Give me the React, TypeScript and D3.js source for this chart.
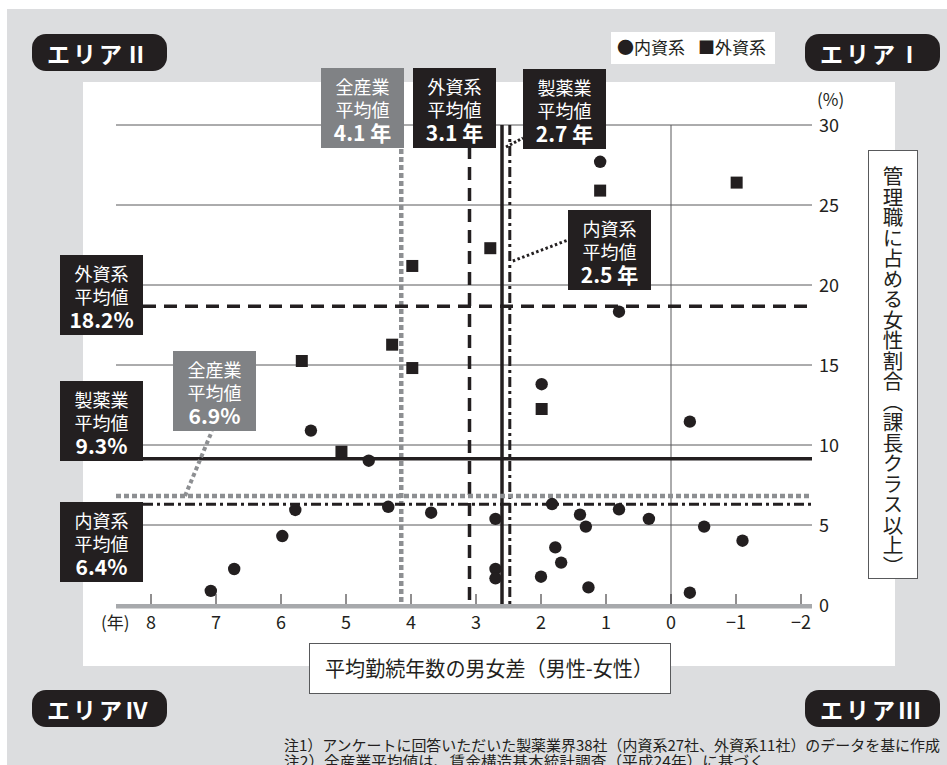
import React, { useEffect, useRef } from 'react';
import * as d3 from 'd3';

// 内資系 (circles): x = 平均勤続年数の男女差, y = 管理職に占める女性割合
const domesticX = [5.54, 4.65, 5.78, 4.35, 3.69, 5.98, 6.72, 7.08, -0.29, 1.83, 2.7, 1.4, 1.31, 0.8, 0.34, -0.51, -1.1, 1.78, 1.69, 2.7, 2.7, 2.0, 1.27, -0.29, 0.8, 1.99, 1.09];
const domesticY = [10.9, 9.02, 5.94, 6.14, 5.77, 4.31, 2.25, 0.88, 11.46, 6.31, 5.38, 5.65, 4.9, 5.98, 5.38, 4.9, 4.02, 3.6, 2.65, 2.25, 1.67, 1.77, 1.1, 0.77, 18.33, 13.8, 27.7];

// 外資系 (squares)
const foreignX = [5.07, 1.99, 2.78, 1.09, -1.01, 3.98, 4.29, 3.98, 5.68];
const foreignY = [9.58, 12.25, 22.3, 25.9, 26.4, 21.19, 16.27, 14.81, 15.25];

const xTicks = [8, 7, 6, 5, 4, 3, 2, 1, 0, -1, -2];
const yTicks = [0, 5, 10, 15, 20, 25, 30];

// vertical averages (years)
const yearAvgNames = ['全産業', '外資系', '製薬業', '内資系'];
const yearAvgValues = [4.15, 3.1, 2.6, 2.48];
const yearAvgLabels = ['4.1 年', '3.1 年', '2.7 年', '2.5 年'];

// horizontal averages (%)
const rateAvgNames = ['外資系', '製薬業', '全産業', '内資系'];
const rateAvgValues = [18.67, 9.14, 6.81, 6.29];
const rateAvgLabels = ['18.2%', '9.3%', '6.9%', '6.4%'];

const FONT = '"Noto Sans CJK JP", "Noto Sans", sans-serif';
const INK = '#231f20';
const GREY_BOX = '#808285';
const GREY_LINE = '#8d8f92';

const lineStyle: Record<string, { stroke: string; width: number; dash: string | null }> = {
  全産業: { stroke: GREY_LINE, width: 4.5, dash: '5,3' },
  外資系: { stroke: INK, width: 3.5, dash: '13,8' },
  製薬業: { stroke: INK, width: 3.5, dash: null },
  内資系: { stroke: INK, width: 3, dash: '10,4,3,4' },
};

// label box positions [x, y]
const yearBoxPos = [[321, 68], [413, 68], [523, 69], [568, 210]];
const rateBoxPos = [[60, 255], [60, 381], [173, 351], [60, 502]];

const App = () => {
  const svgRef = useRef<SVGSVGElement>(null);

  useEffect(() => {
    const svg = d3.select(svgRef.current);
    svg.selectAll('*').remove();
    const W = 947, H = 765;

    const x = d3.scaleLinear().domain([8, -2]).range([151, 801]);
    const y = d3.scaleLinear().domain([0, 30]).range([605, 125]);
    const xLeft = 116, xRight = 812;

    // backgrounds
    svg.append('rect').attr('x', 7).attr('y', 9).attr('width', W - 7).attr('height', H - 9).attr('fill', '#dcdddf');
    svg.append('rect').attr('x', 83).attr('y', 82).attr('width', 812).attr('height', 584).attr('fill', '#fff');

    // grid
    svg.append('g').selectAll('line')
      .data(yTicks.filter(d => d > 0))
      .enter().append('line')
      .attr('x1', xLeft).attr('x2', xRight)
      .attr('y1', d => y(d)).attr('y2', d => y(d))
      .attr('stroke', '#58595b').attr('stroke-width', 1);
    svg.append('line')
      .attr('x1', x(0)).attr('x2', x(0)).attr('y1', y(30)).attr('y2', y(0))
      .attr('stroke', '#58595b').attr('stroke-width', 1);

    // x axis bar + ticks
    svg.append('rect').attr('x', xLeft).attr('y', y(0) - 1).attr('width', xRight - xLeft).attr('height', 4.5).attr('fill', '#a7a9ac');
    svg.append('g').selectAll('line')
      .data(xTicks)
      .enter().append('line')
      .attr('x1', d => x(d)).attr('x2', d => x(d))
      .attr('y1', y(0) - 11).attr('y2', y(0) - 1)
      .attr('stroke', INK).attr('stroke-width', 1);
    svg.append('g').selectAll('text')
      .data(xTicks)
      .enter().append('text')
      .attr('x', d => x(d)).attr('y', 629)
      .attr('text-anchor', 'middle')
      .style('font-family', FONT).style('font-size', '18px').attr('fill', INK)
      .text(d => (d < 0 ? '\u2212' + Math.abs(d) : String(d)));
    svg.append('text').attr('x', 101).attr('y', 629)
      .style('font-family', FONT).style('font-size', '17px').attr('fill', INK).text('(年)');

    // y labels
    svg.append('g').selectAll('text')
      .data(yTicks)
      .enter().append('text')
      .attr('x', 819).attr('y', d => y(d) + 6.5)
      .style('font-family', FONT).style('font-size', '18px').attr('fill', INK)
      .text(d => String(d));
    svg.append('text').attr('x', 817).attr('y', 106)
      .style('font-family', FONT).style('font-size', '17px').attr('fill', INK).text('(%)');

    // average lines (vertical)
    yearAvgNames.forEach((n, i) => {
      const s = lineStyle[n];
      svg.append('line')
        .attr('x1', x(yearAvgValues[i])).attr('x2', x(yearAvgValues[i]))
        .attr('y1', y(30)).attr('y2', y(0) - 1)
        .attr('stroke', s.stroke).attr('stroke-width', s.width)
        .attr('stroke-dasharray', s.dash);
    });
    // average lines (horizontal)
    rateAvgNames.forEach((n, i) => {
      const s = lineStyle[n];
      svg.append('line')
        .attr('x1', n === '全産業' ? xLeft : 143).attr('x2', xRight)
        .attr('y1', y(rateAvgValues[i])).attr('y2', y(rateAvgValues[i]))
        .attr('stroke', s.stroke).attr('stroke-width', s.width)
        .attr('stroke-dasharray', s.dash);
    });

    // points
    svg.append('g').selectAll('circle')
      .data(domesticX.map((d, i) => [d, domesticY[i]]))
      .enter().append('circle')
      .attr('cx', d => x(d[0])).attr('cy', d => y(d[1]))
      .attr('r', 6.2).attr('fill', INK);
    svg.append('g').selectAll('rect')
      .data(foreignX.map((d, i) => [d, foreignY[i]]))
      .enter().append('rect')
      .attr('x', d => x(d[0]) - 6).attr('y', d => y(d[1]) - 6)
      .attr('width', 12).attr('height', 12).attr('fill', INK);

    // leaders
    const leader = (x1, y1, x2, y2, color, w, dash) =>
      svg.append('line').attr('x1', x1).attr('y1', y1).attr('x2', x2).attr('y2', y2)
        .attr('stroke', color).attr('stroke-width', w).attr('stroke-dasharray', dash);
    leader(x(2.6) + 4, 147, 523, 138, INK, 3, '2.5,2');
    leader(x(2.48) + 3, 261, 568, 240, INK, 3, '2.5,2.5');
    leader(185, y(6.81), 212, 431, GREY_LINE, 4, '4,3');

    // label boxes
    const box = (bx, by, fill, name, value) => {
      const g = svg.append('g');
      g.append('rect').attr('x', bx).attr('y', by).attr('width', 83).attr('height', 80).attr('fill', fill);
      const cx = bx + 41.5;
      [[name, 18, '18px', 400], ['平均値', 41, '18px', 400], [value, 64, '21px', 700]].forEach(([t, dy, fs, fw]) => {
        g.append('text').attr('x', cx).attr('y', by + dy)
          .attr('text-anchor', 'middle').attr('dominant-baseline', 'central')
          .style('font-family', FONT).style('font-size', fs).style('font-weight', fw)
          .attr('fill', '#fff').text(t);
      });
    };
    yearAvgNames.forEach((n, i) => box(yearBoxPos[i][0], yearBoxPos[i][1], n === '全産業' ? GREY_BOX : INK, n, yearAvgLabels[i]));
    rateAvgNames.forEach((n, i) => box(rateBoxPos[i][0], rateBoxPos[i][1], n === '全産業' ? GREY_BOX : INK, n, rateAvgLabels[i]));

    // legend
    svg.append('rect').attr('x', 611).attr('y', 32).attr('width', 164).attr('height', 32).attr('fill', '#fff');
    svg.append('text').attr('x', 617).attr('y', 54)
      .style('font-family', FONT).style('font-size', '17px').attr('fill', INK).text('●内資系');
    svg.append('text').attr('x', 698).attr('y', 54)
      .style('font-family', FONT).style('font-size', '17px').attr('fill', INK).text('■外資系');

    // axis titles
    svg.append('rect').attr('x', 868.5).attr('y', 150.5).attr('width', 49).attr('height', 428)
      .attr('fill', '#fff').attr('stroke', '#58595b').attr('stroke-width', 1);
    svg.append('text').attr('x', 893).attr('y', 166)
      .style('writing-mode', 'vertical-rl')
      .style('font-family', FONT).style('font-size', '20.5px').attr('fill', INK)
      .text('管理職に占める女性割合（課長クラス以上）');
    svg.append('rect').attr('x', 309.5).attr('y', 643.5).attr('width', 361).attr('height', 50)
      .attr('fill', '#fff').attr('stroke', '#58595b').attr('stroke-width', 1);
    svg.append('text').attr('x', 325).attr('y', 676)
      .attr('textLength', 328).attr('lengthAdjust', 'spacingAndGlyphs')
      .style('font-family', FONT).style('font-size', '21px').attr('fill', INK)
      .text('平均勤続年数の男女差（男性-女性）');

    // area badges
    const badges = [['エリアⅡ', 32, 34], ['エリアⅠ', 805, 34], ['エリアⅣ', 32, 690], ['エリアⅢ', 805, 690]];
    badges.forEach(([t, bx, by]) => {
      svg.append('rect').attr('x', bx).attr('y', by).attr('width', 135).attr('height', 37)
        .attr('rx', 14).attr('fill', INK);
      svg.append('text').attr('x', +bx + 67).attr('y', +by + 19)
        .attr('text-anchor', 'middle').attr('dominant-baseline', 'central')
        .style('font-family', FONT).style('font-size', '23px').style('font-weight', 700)
        .style('letter-spacing', '3px')
        .attr('fill', '#fff').text(t);
    });

    // notes
    svg.append('text').attr('x', 284).attr('y', 751)
      .attr('textLength', 656).attr('lengthAdjust', 'spacingAndGlyphs')
      .style('font-family', FONT).style('font-size', '15px').attr('fill', INK)
      .text('注1）アンケートに回答いただいた製薬業界38社（内資系27社、外資系11社）のデータを基に作成');
    svg.append('text').attr('x', 284).attr('y', 767)
      .attr('textLength', 481).attr('lengthAdjust', 'spacingAndGlyphs')
      .style('font-family', FONT).style('font-size', '15px').attr('fill', INK)
      .text('注2）全産業平均値は、賃金構造基本統計調査（平成24年）に基づく');
  }, []);

  return (
    <svg ref={svgRef} width="947" height="765" style={{ position: 'absolute', left: 0, top: 0, display: 'block' }}>
    </svg>
  );
};

export default App;
